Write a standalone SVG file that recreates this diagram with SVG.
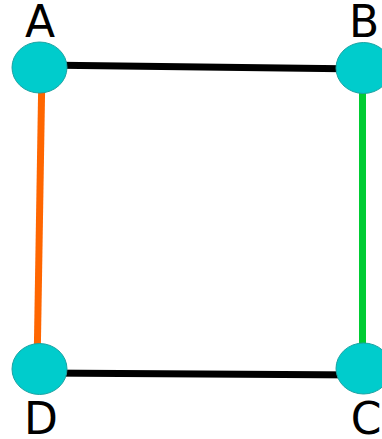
<svg xmlns="http://www.w3.org/2000/svg" width="382" height="439" viewBox="0 0 382 439">
<style>
.n{fill:#00cccc;stroke:#1aa3a3;stroke-width:1}
.e{stroke-width:7;fill:none;stroke-linecap:butt}
.l{font-family:"DejaVu Sans",sans-serif;font-size:44px;fill:#000;text-anchor:middle}
</style>
<rect width="382" height="439" fill="#fff"/>
<g id="edges">
<line class="e" x1="40" y1="65" x2="363" y2="69" stroke="#000"/>
<line class="e" x1="42" y1="67" x2="37" y2="369" stroke="#ff6600"/>
<line class="e" x1="362.5" y1="68" x2="362.5" y2="369" stroke="#00cc33"/>
<line class="e" x1="40" y1="373" x2="363" y2="375" stroke="#000"/>
</g>
<g id="A"><ellipse class="n" cx="39.5" cy="67.5" rx="27.5" ry="25.5"/><text class="l" x="40" y="37">A</text></g>
<g id="B"><ellipse class="n" cx="363.5" cy="68" rx="27.5" ry="25.5"/><text class="l" x="364" y="37">B</text></g>
<g id="C"><ellipse class="n" cx="363.5" cy="368.5" rx="27.5" ry="25.5"/><text class="l" x="366" y="434">C</text></g>
<g id="D"><ellipse class="n" cx="39.5" cy="369" rx="27.5" ry="25.5"/><text class="l" x="41" y="434">D</text></g>
</svg>
